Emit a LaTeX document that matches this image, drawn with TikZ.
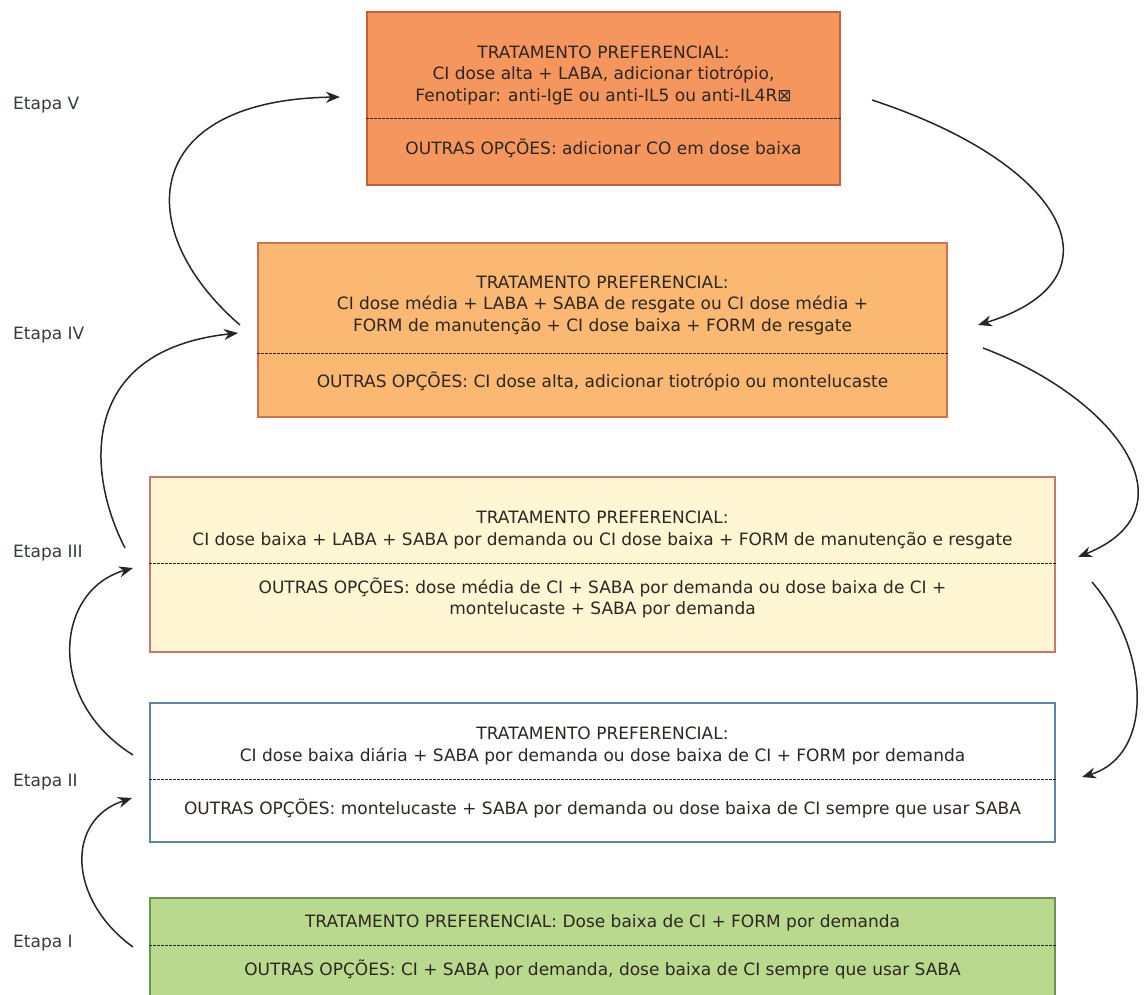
\documentclass[tikz,border=0pt]{standalone}
\usepackage{fontspec}
\setmainfont{DejaVu Sans}
\usepackage{tikz}
\usetikzlibrary{arrows.meta}

\definecolor{txt}{HTML}{2E2622}
\definecolor{labtxt}{HTML}{333B3B}
\definecolor{fillV}{HTML}{F6965F}
\definecolor{lineV}{HTML}{C0603F}
\definecolor{fillIV}{HTML}{FAB872}
\definecolor{lineIV}{HTML}{D07050}
\definecolor{fillIII}{HTML}{FFF7D3}
\definecolor{lineIII}{HTML}{C47B6C}
\definecolor{lineII}{HTML}{5C87A6}
\definecolor{fillI}{HTML}{B8D98E}
\definecolor{lineI}{HTML}{6A9450}

\begin{document}
\begin{tikzpicture}[x=1pt, y=-1pt,
  every node/.style={font=\fontsize{17}{21.5}\selectfont, text=txt, inner sep=0pt},
  stage/.style={rectangle, line width=1.4pt},
  divider/.style={line width=0.9pt, dash pattern=on 2.5pt off 1.5pt, draw=txt},
  upstep/.style={-{Stealth[length=14pt, width=11pt]}, line width=1.5pt, draw=black!85},
  etapa/.style={anchor=west, text=labtxt}]

\useasboundingbox (0,0) rectangle (1144,994);

\begin{scope}
  \clip (0,0) rectangle (1144,994);
  \node[stage, fill=fillV, draw=lineV, minimum width=473pt, minimum height=173pt] (st5) at (603.5,98.5) {};
  \node[stage, fill=fillIV, draw=lineIV, minimum width=689pt, minimum height=174pt] (st4) at (602.5,330) {};
  \node[stage, fill=fillIII, draw=lineIII, minimum width=905pt, minimum height=175pt] (st3) at (602.5,564.5) {};
  \node[stage, fill=white, draw=lineII, minimum width=905pt, minimum height=139pt] (st2) at (602.5,772.5) {};
  \node[stage, fill=fillI, draw=lineI, minimum width=905pt, minimum height=110pt] (st1) at (602.5,953) {};
\end{scope}

% cut lines between the two halves of each box
\coordinate (cut5) at (0,118);
\coordinate (cut4) at (0,353);
\coordinate (cut3) at (0,563);
\coordinate (cut2) at (0,779);
\coordinate (cut1) at (0,945);
\foreach \s in {1,...,5}
  \draw[divider] (st\s.west |- cut\s) -- (st\s.east |- cut\s);

% texts
\node[align=center] (st5pref) at (603.5,75) {TRATAMENTO PREFERENCIAL:\\CI dose alta + LABA, adicionar tiotrópio,\\Fenotipar: anti-IgE ou anti-IL5 ou anti-IL4R⊠};
\node (st5opt) at (603.5,148) {OUTRAS OPÇÕES: adicionar CO em dose baixa};

\node[align=center] (st4pref) at (602.5,305) {TRATAMENTO PREFERENCIAL:\\CI dose média + LABA + SABA de resgate  ou CI dose média +\\FORM de manutenção + CI dose baixa + FORM de resgate};
\node (st4opt) at (602.5,381) {OUTRAS OPÇÕES: CI dose alta, adicionar tiotrópio  ou montelucaste};

\node[align=center] (st3pref) at (602.5,530) {TRATAMENTO PREFERENCIAL:\\CI dose baixa + LABA + SABA por demanda ou CI dose baixa + FORM de manutenção e resgate};
\node[align=center] (st3opt) at (602.5,598) {OUTRAS OPÇÕES: dose média de CI + SABA por demanda ou dose baixa de CI +\\montelucaste + SABA por demanda};

\node[align=center] (st2pref) at (602.5,746) {TRATAMENTO PREFERENCIAL:\\CI dose baixa diária + SABA por demanda ou dose baixa de CI + FORM por demanda};
\node (st2opt) at (602.5,808) {OUTRAS OPÇÕES: montelucaste + SABA por demanda ou dose baixa de CI sempre que usar SABA};

\node (st1pref) at (602.5,923) {TRATAMENTO PREFERENCIAL:  Dose baixa de CI + FORM por demanda};
\node (st1opt) at (602.5,969) {OUTRAS OPÇÕES: CI + SABA por demanda, dose baixa de CI sempre que usar SABA};

% stage labels
\node[etapa] (lab5) at (13,105) {Etapa V};
\node[etapa] (lab4) at (13,335) {Etapa IV};
\node[etapa] (lab3) at (13,553) {Etapa III};
\node[etapa] (lab2) at (13,782) {Etapa II};
\node[etapa] (lab1) at (13,943) {Etapa I};

% arrow ends
\coordinate (up1a) at (133,947);  \coordinate (up1b) at (132,798);
\coordinate (up2a) at (133,755);  \coordinate (up2b) at (133,568);
\coordinate (up3a) at (125,548);  \coordinate (up3b) at (238,333);
\coordinate (up4a) at (240,325);  \coordinate (up4b) at (340,97);
\coordinate (dn1a) at (872,100);  \coordinate (dn1b) at (978,325);
\coordinate (dn2a) at (983,348);  \coordinate (dn2b) at (1078,557);
\coordinate (dn3a) at (1092,582); \coordinate (dn3b) at (1082,777);

% going up on the left
\draw[upstep] (up1a) .. controls (68,900) and (65,820) .. (up1b);
\draw[upstep] (up2a) .. controls (45,700) and (55,590) .. (up2b);
\draw[upstep] (up3a) .. controls (85,470) and (80,350) .. (up3b);
\draw[upstep] (up4a) .. controls (130,230) and (140,100) .. (up4b);

% going down on the right
\draw[upstep] (dn1a) .. controls (1070,165) and (1125,280) .. (dn1b);
\draw[upstep] (dn2a) .. controls (1120,400) and (1195,510) .. (dn2b);
\draw[upstep] (dn3a) .. controls (1150,650) and (1155,755) .. (dn3b);
\end{tikzpicture}
\end{document}
